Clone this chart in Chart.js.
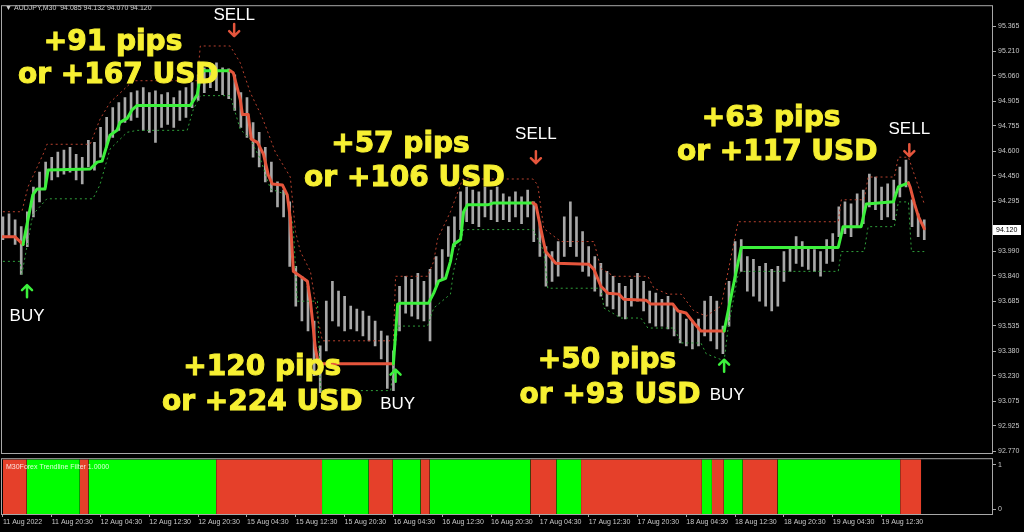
<!DOCTYPE html>
<html>
<head>
<meta charset="utf-8">
<script src="https://cdn.jsdelivr.net/npm/chart.js@4.4.0/dist/chart.umd.min.js"></script>
<style>
  html, body { margin: 0; padding: 0; background: #000; width: 1024px; height: 532px; overflow: hidden; }
  canvas { position: absolute; left: 0; }
  #main { top: 0; }
  #filter { top: 453px; }
</style>
</head>
<body>
<canvas id="main" width="1024" height="460"></canvas>
<canvas id="filter" width="1024" height="79"></canvas>
<script>
// AUDJPY M30 - price bars (high/low every 2 bars, bar index = i*2)
const barHigh = [
  94.200, 94.219, 94.182, 94.140, 94.231, 94.382, 94.473, 94.534, 94.564, 94.595,
  94.607, 94.625, 94.582, 94.564, 94.667, 94.655, 94.746, 94.807, 94.867, 94.898,
  94.928, 94.958, 94.970, 94.989, 94.958, 94.970, 94.946, 94.958, 94.928, 94.970,
  94.989, 95.019, 95.067, 95.110, 95.128, 95.140, 95.110, 95.104, 95.067, 94.958,
  94.928, 94.776, 94.716, 94.625, 94.534, 94.413, 94.364, 94.291, 93.897, 93.837,
  93.776, 93.564, 93.412, 93.685, 93.806, 93.746, 93.715, 93.655, 93.637, 93.625,
  93.594, 93.564, 93.503, 93.473, 93.382, 93.776, 93.837, 93.819, 93.855, 93.806,
  93.879, 93.958, 94.000, 94.140, 94.200, 94.352, 94.382, 94.364, 94.352, 94.382,
  94.364, 94.382, 94.340, 94.322, 94.352, 94.322, 94.364, 94.291, 94.170, 94.018,
  93.988, 94.049, 94.200, 94.291, 94.200, 94.110, 94.018, 93.958, 93.916, 93.867,
  93.837, 93.794, 93.776, 93.819, 93.855, 93.806, 93.746, 93.734, 93.697, 93.715,
  93.655, 93.625, 93.576, 93.564, 93.576, 93.685, 93.715, 93.685, 93.533, 93.806,
  94.049, 94.061, 93.958, 93.940, 93.897, 93.916, 93.879, 93.897, 93.988, 94.018,
  94.079, 94.049, 94.018, 94.000, 93.988, 94.061, 94.097, 94.261, 94.291, 94.279,
  94.340, 94.364, 94.461, 94.443, 94.382, 94.401, 94.425, 94.504, 94.546, 94.304,
  94.219, 94.182
];
const barLow = [
  94.061, 94.073, 94.031, 93.849, 94.018, 94.200, 94.291, 94.382, 94.425, 94.443,
  94.461, 94.473, 94.425, 94.401, 94.504, 94.485, 94.564, 94.625, 94.685, 94.728,
  94.776, 94.789, 94.807, 94.728, 94.716, 94.655, 94.746, 94.764, 94.746, 94.789,
  94.807, 94.867, 94.910, 94.958, 94.989, 94.970, 94.946, 94.922, 94.849, 94.746,
  94.685, 94.564, 94.504, 94.413, 94.352, 94.261, 94.200, 93.897, 93.655, 93.564,
  93.503, 93.230, 93.127, 93.382, 93.564, 93.533, 93.503, 93.515, 93.503, 93.473,
  93.443, 93.412, 93.333, 93.152, 93.139, 93.503, 93.612, 93.594, 93.576, 93.564,
  93.443, 93.776, 93.819, 93.958, 94.018, 94.122, 94.170, 94.158, 94.140, 94.200,
  94.182, 94.170, 94.182, 94.170, 94.200, 94.158, 94.200, 94.049, 93.958, 93.776,
  93.806, 93.837, 93.958, 94.018, 93.958, 93.867, 93.837, 93.746, 93.715, 93.655,
  93.637, 93.594, 93.576, 93.655, 93.685, 93.625, 93.552, 93.533, 93.533, 93.515,
  93.473, 93.430, 93.412, 93.394, 93.412, 93.473, 93.443, 93.394, 93.364, 93.533,
  93.806, 93.867, 93.746, 93.715, 93.685, 93.655, 93.625, 93.655, 93.806, 93.867,
  93.916, 93.897, 93.879, 93.867, 93.837, 93.916, 93.928, 94.079, 94.097, 94.079,
  94.140, 94.158, 94.261, 94.243, 94.182, 94.200, 94.182, 94.322, 94.382, 94.140,
  94.079, 94.061
];

// trend line (1 = up / green, 0 = down / red)
const sigIdx = [0, 3.9, 6.6, 9.8, 11.2, 13.8, 14.8, 28.6, 30.9, 32.5, 35.1, 37.4, 38.4, 40.7, 42.4,
  44.0, 61.4, 63.7, 64.7, 65.7, 74.5, 75.5, 77.8, 78.5, 80.4, 81.4, 83.4, 85.4, 87.0, 88.3, 91.6,
  93.2, 94.2, 95.2, 97.5, 99.8, 100.8, 102.4, 103.4, 128.0, 129.4, 130.3, 139.5, 141.2, 142.8,
  145.1, 146.7, 147.7, 150.0, 151.0, 152.3, 158.9, 160.9, 173.7, 174.7, 176.3, 177.9, 181.2,
  192.1, 193.7, 196.0, 198.3, 201.9, 203.5, 210.8, 212.4, 219.6, 221.3, 223.9, 226.5, 228.8,
  236.4, 239.7, 242.0, 273.8, 275.4, 281.3, 283.0, 291.9, 293.5, 296.8, 297.4, 298.8, 300.1, 302.0];
const sigPrice = [94.079, 94.079, 94.031, 94.334, 94.370, 94.370, 94.486, 94.492, 94.534, 94.540,
  94.698, 94.728, 94.777, 94.801, 94.855, 94.880, 94.880, 94.946, 95.062, 95.092, 95.092, 95.080,
  94.916, 94.825, 94.825, 94.674, 94.655, 94.583, 94.455, 94.401, 94.395, 94.334, 94.189, 93.867,
  93.837, 93.807, 93.685, 93.400, 93.303, 93.303, 93.667, 93.673, 93.673, 93.734, 93.807, 93.825,
  93.928, 94.031, 94.061, 94.231, 94.273, 94.273, 94.285, 94.285, 94.273, 94.128, 93.988, 93.916,
  93.910, 93.879, 93.776, 93.734, 93.728, 93.697, 93.691, 93.667, 93.667, 93.625, 93.613, 93.552,
  93.503, 93.503, 93.807, 94.013, 94.013, 94.140, 94.140, 94.279, 94.292, 94.383, 94.407, 94.380,
  94.279, 94.201, 94.128];
const sigTrend = [0, 0, 0,
  1, 1, 1, 1, 1, 1, 1, 1, 1, 1, 1, 1, 1, 1, 1, 1, 1, 1,
  0, 0, 0, 0, 0, 0, 0, 0, 0, 0, 0, 0, 0, 0, 0, 0, 0, 0, 0,
  1, 1, 1, 1, 1, 1, 1, 1, 1, 1, 1, 1, 1, 1,
  0, 0, 0, 0, 0, 0, 0, 0, 0, 0, 0, 0, 0, 0, 0, 0, 0, 0,
  1, 1, 1, 1, 1, 1, 1, 1, 1,
  0, 0, 0, 0];

// channel bands
const upIdx = [0, 6.2, 8.2, 13.5, 14.4, 28.6, 31.8, 35.1, 42.7, 63.7, 64.7, 74.5, 77.8, 81.1, 85.0,
  89.3, 94.2, 95.9, 97.5, 100.8, 103.4, 104.7, 128.0, 128.7, 139.2, 141.2, 142.5, 146.7, 150.7,
  173.7, 175.3, 177.3, 182.9, 193.7, 196.0, 200.3, 211.4, 213.4, 218.0, 222.3, 226.5, 230.5, 235.4,
  237.7, 241.0, 273.8, 274.8, 282.3, 283.6, 292.2, 293.5, 296.8, 298.8, 302.0];
const upPrice = [94.231, 94.231, 94.382, 94.595, 94.643, 94.643, 94.795, 94.898, 95.031, 95.031,
  95.243, 95.243, 95.140, 94.958, 94.807, 94.595, 94.443, 94.110, 93.988, 93.867, 93.564, 93.443,
  93.443, 93.837, 93.837, 93.928, 94.067, 94.231, 94.431, 94.431, 94.395, 94.128, 94.049, 94.049,
  93.885, 93.837, 93.837, 93.764, 93.728, 93.728, 93.625, 93.594, 93.655, 93.867, 94.170, 94.170,
  94.304, 94.304, 94.443, 94.443, 94.564, 94.564, 94.455, 94.279];
const loIdx = [0, 5.6, 6.2, 9.8, 14.4, 29.5, 31.8, 35.1, 40.7, 44.0, 60.4, 62.4, 64.7, 74.5, 77.8,
  81.1, 84.4, 87.7, 93.2, 95.2, 96.5, 103.1, 104.1, 127.1, 129.4, 139.2, 141.2, 146.7, 147.7, 151.0,
  173.7, 175.3, 177.3, 178.6, 196.0, 197.0, 202.6, 209.1, 211.4, 220.0, 222.3, 228.8, 230.5, 236.4,
  237.7, 241.0, 242.0, 273.8, 274.8, 282.3, 283.6, 292.2, 293.5, 296.8, 297.8, 302.0];
const loPrice = [93.928, 93.928, 93.849, 94.213, 94.310, 94.310, 94.395, 94.613, 94.716, 94.728,
  94.728, 94.855, 94.940, 94.940, 94.734, 94.673, 94.552, 94.370, 94.334, 94.128, 93.685, 93.685,
  93.139, 93.139, 93.533, 93.533, 93.643, 93.728, 93.867, 94.122, 94.122, 94.067, 93.988, 93.764,
  93.764, 93.643, 93.582, 93.582, 93.521, 93.521, 93.430, 93.430, 93.364, 93.321, 93.521, 93.849,
  93.867, 93.867, 93.988, 93.988, 94.140, 94.140, 94.291, 94.291, 93.988, 93.988];

// M30Forex Trendline Filter panel: segment edges (bar index) and state (1 = green)
const filterEdges = [0, 7.8, 25.2, 28.1, 69.9, 104.6, 119.9, 127.8, 136.9, 139.9, 172.9, 181.4,
  189.5, 229.1, 232.4, 236.3, 242.5, 253.9, 294.1, 301];
const filterState = [0, 1, 0, 1, 0, 1, 0, 1, 0, 1, 0, 1, 0, 1, 0, 1, 0, 1, 0];

const priceTicks = [95.365, 95.210, 95.060, 94.905, 94.755, 94.600, 94.450, 94.295, 93.990,
  93.840, 93.685, 93.535, 93.380, 93.230, 93.075, 92.925, 92.770];
const timeLabels = ['11 Aug 2022', '11 Aug 20:30', '12 Aug 04:30', '12 Aug 12:30', '12 Aug 20:30',
  '15 Aug 04:30', '15 Aug 12:30', '15 Aug 20:30', '16 Aug 04:30', '16 Aug 12:30', '16 Aug 20:30',
  '17 Aug 04:30', '17 Aug 12:30', '17 Aug 20:30', '18 Aug 04:30', '18 Aug 12:30', '18 Aug 20:30',
  '19 Aug 04:30', '19 Aug 12:30'];
const lastPrice = 94.120;

// trade notes (bar index, price)
const annText = ['+91 pips', 'or +167 USD', 'SELL', '', '+57 pips', 'or +106 USD', 'SELL', '',
  '+63 pips', 'or +117 USD', 'SELL', '', '', 'BUY', '+120 pips', 'or +224 USD', '', 'BUY',
  '+50 pips', 'or +93 USD', '', 'BUY'];
const annIdx = [36.1, 37.8, 75.8, 75.8, 130.3, 131.6, 174.7, 174.7, 251.8, 253.8, 297.1, 297.1,
  7.9, 7.9, 85.0, 85.0, 128.7, 129.4, 198, 199, 236.4, 237.4];
const annPrice = [95.262, 95.062, 95.431, 95.340, 94.643, 94.431, 94.704, 94.564, 94.801, 94.589,
  94.734, 94.607, 93.746, 93.594, 93.279, 93.067, 93.230, 93.055, 93.321, 93.109, 93.291, 93.109];
const annKind = ['big', 'big', 'tag', 'dn', 'big', 'big', 'tag', 'dn', 'big', 'big', 'tag', 'dn',
  'up', 'tag', 'big', 'big', 'up', 'tag', 'big', 'big', 'up', 'tag'];

const GREEN = '#3cf03c';
const RED = '#e5553c';
const AXIS_FONT = { family: 'Liberation Sans', size: 7 };
const X_MIN = -0.3, X_MAX = 324.2;

// gray frame around the plot area
const framePlugin = {
  id: 'frame',
  afterDraw(chart) {
    const { ctx, chartArea: a } = chart;
    ctx.save();
    ctx.strokeStyle = '#a8a8a8';
    ctx.lineWidth = 1;
    ctx.strokeRect(a.left - 0.5, a.top - 0.5, a.width + 1, a.height + 1);
    ctx.restore();
  }
};

function drawArrow(ctx, x, y, up, color) {
  const d = up ? -1 : 1;
  ctx.save();
  ctx.strokeStyle = color;
  ctx.lineWidth = 2.5;
  ctx.lineCap = 'round';
  ctx.lineJoin = 'round';
  ctx.beginPath();
  ctx.moveTo(x, y - 6 * d);
  ctx.lineTo(x, y + 6 * d);
  ctx.moveTo(x - 5, y + 1 * d);
  ctx.lineTo(x, y + 6 * d);
  ctx.lineTo(x + 5, y + 1 * d);
  ctx.stroke();
  ctx.restore();
}

const notesPlugin = {
  id: 'notes',
  afterDatasetsDraw(chart) {
    const { ctx, scales: { x, y } } = chart;
    ctx.save();
    ctx.textAlign = 'center';
    ctx.textBaseline = 'middle';
    annKind.forEach((k, i) => {
      const px = x.getPixelForValue(annIdx[i]);
      const py = y.getPixelForValue(annPrice[i]);
      if (k === 'big') {
        ctx.font = 'bold 28px "DejaVu Sans"';
        ctx.fillStyle = '#f7f032';
        ctx.strokeStyle = '#f7f032';
        ctx.lineWidth = 1;
        ctx.fillText(annText[i], px, py);
        ctx.strokeText(annText[i], px, py);
      } else if (k === 'tag') {
        ctx.font = '17px "Liberation Sans"';
        ctx.fillStyle = '#ffffff';
        ctx.fillText(annText[i], px, py);
      } else {
        drawArrow(ctx, px, py, k === 'up', k === 'up' ? GREEN : RED);
      }
    });
    // header
    ctx.textAlign = 'left';
    ctx.font = '7px "Liberation Sans"';
    ctx.fillStyle = '#d0d0d0';
    ctx.fillText('\u25BC', 5, 8);
    ctx.fillText('AUDJPY,M30  94.085 94.132 94.070 94.120', 14, 8);
    ctx.restore();
  },
  afterDraw(chart) {
    const { ctx, scales: { y } } = chart;
    const py = y.getPixelForValue(lastPrice);
    ctx.save();
    ctx.fillStyle = '#ffffff';
    ctx.fillRect(993, Math.round(py) - 5, 28, 10);
    ctx.fillStyle = '#000000';
    ctx.font = '7px "Liberation Sans"';
    ctx.textBaseline = 'middle';
    ctx.textAlign = 'left';
    ctx.fillText(lastPrice.toFixed(3), 996, Math.round(py));
    ctx.restore();
  }
};

new Chart(document.getElementById('main'), {
  type: 'bar',
  data: {
    datasets: [
      {
        type: 'line',
        data: sigIdx.map((v, i) => ({ x: v, y: sigPrice[i] })),
        borderColor: GREEN,
        segment: { borderColor: c => sigTrend[c.p1DataIndex] ? GREEN : RED },
        borderWidth: 3,
        pointRadius: 0,
        tension: 0,
        borderCapStyle: 'round',
        borderJoinStyle: 'round',
        order: 0
      },
      {
        type: 'line',
        data: upIdx.map((v, i) => ({ x: v, y: upPrice[i] })),
        borderColor: '#b8412e',
        borderWidth: 1,
        borderDash: [2, 3],
        pointRadius: 0,
        order: 1
      },
      {
        type: 'line',
        data: loIdx.map((v, i) => ({ x: v, y: loPrice[i] })),
        borderColor: '#2f9e3a',
        borderWidth: 1,
        borderDash: [2, 3],
        pointRadius: 0,
        order: 1
      },
      {
        type: 'bar',
        data: barHigh.map((h, i) => ({ x: i * 2, y: [barLow[i], h] })),
        backgroundColor: '#a8a8a8',
        barThickness: 2,
        order: 3
      }
    ]
  },
  options: {
    responsive: false,
    animation: false,
    layout: { padding: { left: 2, top: 3, right: 0, bottom: 7 } },
    plugins: { legend: { display: false }, tooltip: { enabled: false } },
    scales: {
      x: { type: 'linear', min: X_MIN, max: X_MAX, display: false, offset: false },
      y: {
        position: 'right',
        min: 92.758,
        max: 95.486,
        afterBuildTicks: s => { s.ticks = priceTicks.map(v => ({ value: v })); },
        afterFit: s => { s.width = 32; },
        grid: { drawOnChartArea: false, color: '#a8a8a8', tickLength: 4 },
        border: { display: false },
        ticks: { color: '#c8c8c8', font: AXIS_FONT, padding: 2, callback: v => Number(v).toFixed(3) }
      }
    }
  },
  plugins: [framePlugin, notesPlugin]
});

const filterLabel = {
  id: 'filterLabel',
  afterDatasetsDraw(chart) {
    const { ctx, chartArea: a } = chart;
    ctx.save();
    ctx.font = '7px "Liberation Sans"';
    ctx.fillStyle = 'rgba(255,255,255,0.85)';
    ctx.textBaseline = 'middle';
    ctx.fillText('M30Forex Trendline Filter 1.0000', a.left + 4, a.top + 8);
    ctx.restore();
  }
};

new Chart(document.getElementById('filter'), {
  type: 'line',
  data: {
    datasets: filterState.map((s, i) => ({
      data: [{ x: filterEdges[i], y: 1.125 }, { x: filterEdges[i + 1], y: 1.125 }],
      fill: 'start',
      backgroundColor: s ? '#00ff00' : '#e5402a',
      borderWidth: 0,
      pointRadius: 0
    }))
  },
  options: {
    responsive: false,
    animation: false,
    layout: { padding: { left: 2, top: 2, right: 0, bottom: 0 } },
    plugins: { legend: { display: false }, tooltip: { enabled: false } },
    scales: {
      x: {
        type: 'linear',
        min: X_MIN,
        max: X_MAX,
        afterBuildTicks: s => { s.ticks = timeLabels.map((t, i) => ({ value: i * 16 })); },
        afterFit: s => { s.height = 18; },
        grid: { drawOnChartArea: false, color: '#a8a8a8', tickLength: 3 },
        border: { display: false },
        ticks: {
          align: 'start', maxRotation: 0, autoSkip: false, color: '#c8c8c8', font: AXIS_FONT, padding: 1,
          callback: v => timeLabels[Math.round(v / 16)]
        }
      },
      y: {
        position: 'right',
        min: -0.104,
        max: 1.125,
        afterBuildTicks: s => { s.ticks = [{ value: 0 }, { value: 1 }]; },
        afterFit: s => { s.width = 32; },
        grid: { drawOnChartArea: false, color: '#a8a8a8', tickLength: 4 },
        border: { display: false },
        ticks: { color: '#c8c8c8', font: AXIS_FONT, padding: 2, callback: v => String(v) }
      }
    }
  },
  plugins: [framePlugin, filterLabel]
});
</script>
</body>
</html>
